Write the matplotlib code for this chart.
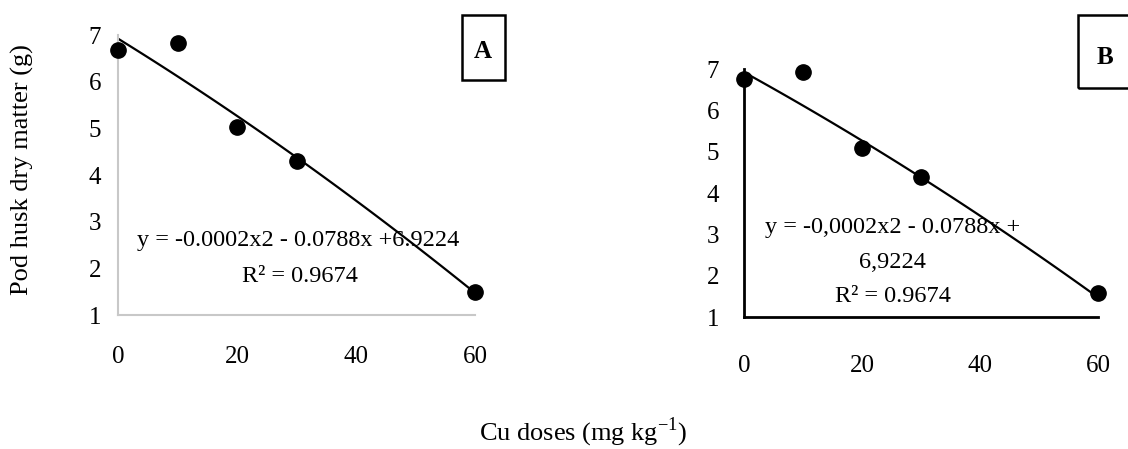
import numpy as np
import matplotlib
matplotlib.use("Agg")
import matplotlib.pyplot as plt
from matplotlib.patches import Rectangle

plt.rcParams['font.family'] = ['Liberation Serif', 'DejaVu Serif']
plt.rcParams['mathtext.fontset'] = 'custom'
plt.rcParams['mathtext.rm'] = 'Liberation Serif'

# data
doses = [0, 10, 20, 30, 60]
husk_a = [6.68, 6.83, 5.02, 4.31, 1.49]
husk_b = [6.76, 6.93, 5.10, 4.38, 1.58]
coef = [-0.0002, -0.0788, 6.9224]   # trendline y = a x^2 + b x + c
xticks = [0, 20, 40, 60]
yticks = [1, 2, 3, 4, 5, 6, 7]

W, H = 1128, 449
fig = plt.figure(figsize=(W / 100, H / 100), dpi=100)


def px_axes(x0, x1, y_top, y_bot):
    return fig.add_axes([x0 / W, 1 - y_bot / H, (x1 - x0) / W, (y_bot - y_top) / H])


xfit = np.linspace(0, 60, 100)
yfit = np.polyval(coef, xfit)

# ---- panel A
axA = px_axes(118, 475, 35, 315)
axA.plot(xfit, yfit, color='black', lw=1.6, zorder=2)
axA.plot(doses, husk_a, 'o', color='black', ms=11, zorder=3, clip_on=False)
for s in ['top', 'right']:
    axA.spines[s].set_visible(False)
for s in ['left', 'bottom']:
    axA.spines[s].set_color('#c8c8c8')
    axA.spines[s].set_linewidth(1.5)
axA.set_xlim(0, 60)
axA.set_ylim(1, 7)
axA.set_xticks(xticks)
axA.set_yticks(yticks)
axA.tick_params(axis='x', length=0, pad=22, labelsize=18)
axA.tick_params(axis='y', length=0, pad=12, labelsize=18)
fig.text(298 / W, 1 - 240 / H, 'y = -0.0002x2 - 0.0788x +6.9224', ha='center', va='center', fontsize=17.5)
fig.text(300 / W, 1 - 277 / H, 'R² = 0.9674', ha='center', va='center', fontsize=17.5)

# ---- panel B
axB = px_axes(744, 1098, 69, 317)
axB.plot(xfit, yfit, color='black', lw=1.6, zorder=2)
axB.plot(doses, husk_b, 'o', color='black', ms=11, zorder=3, clip_on=False)
for s in ['top', 'right']:
    axB.spines[s].set_visible(False)
for s in ['left', 'bottom']:
    axB.spines[s].set_color('black')
    axB.spines[s].set_linewidth(2)
axB.set_xlim(0, 60)
axB.set_ylim(1, 7)
axB.set_xticks(xticks)
axB.set_yticks(yticks)
axB.tick_params(axis='x', length=0, pad=27, labelsize=18)
axB.tick_params(axis='y', length=0, pad=18, labelsize=18)
fig.text(893 / W, 1 - 227 / H, 'y = -0,0002x2 - 0.0788x +', ha='center', va='center', fontsize=17.5)
fig.text(892 / W, 1 - 262 / H, '6,9224', ha='center', va='center', fontsize=17.5)
fig.text(893 / W, 1 - 297 / H, 'R² = 0.9674', ha='center', va='center', fontsize=17.5)

# panel letters in boxes
fig.patches.append(Rectangle((462 / W, 1 - 80 / H), 43 / W, 65 / H, transform=fig.transFigure,
                             fill=False, edgecolor='black', lw=1.8))
fig.text(483 / W, 1 - 51 / H, 'A', ha='center', va='center', fontsize=18, fontweight='bold')
fig.patches.append(Rectangle((1078 / W, 1 - 88 / H), 60 / W, 73 / H, transform=fig.transFigure,
                             fill=False, edgecolor='black', lw=1.8))
fig.text(1105 / W, 1 - 57 / H, 'B', ha='center', va='center', fontsize=18, fontweight='bold')

# shared axis titles
fig.text(22 / W, 1 - 170 / H, 'Pod husk dry matter (g)', rotation=90, ha='center', va='center', fontsize=19)
fig.text(583 / W, 1 - 432 / H, r'Cu doses (mg kg$^{\mathregular{-1}}$)', ha='center', va='center', fontsize=19)

fig.savefig('out.png', dpi=100)
